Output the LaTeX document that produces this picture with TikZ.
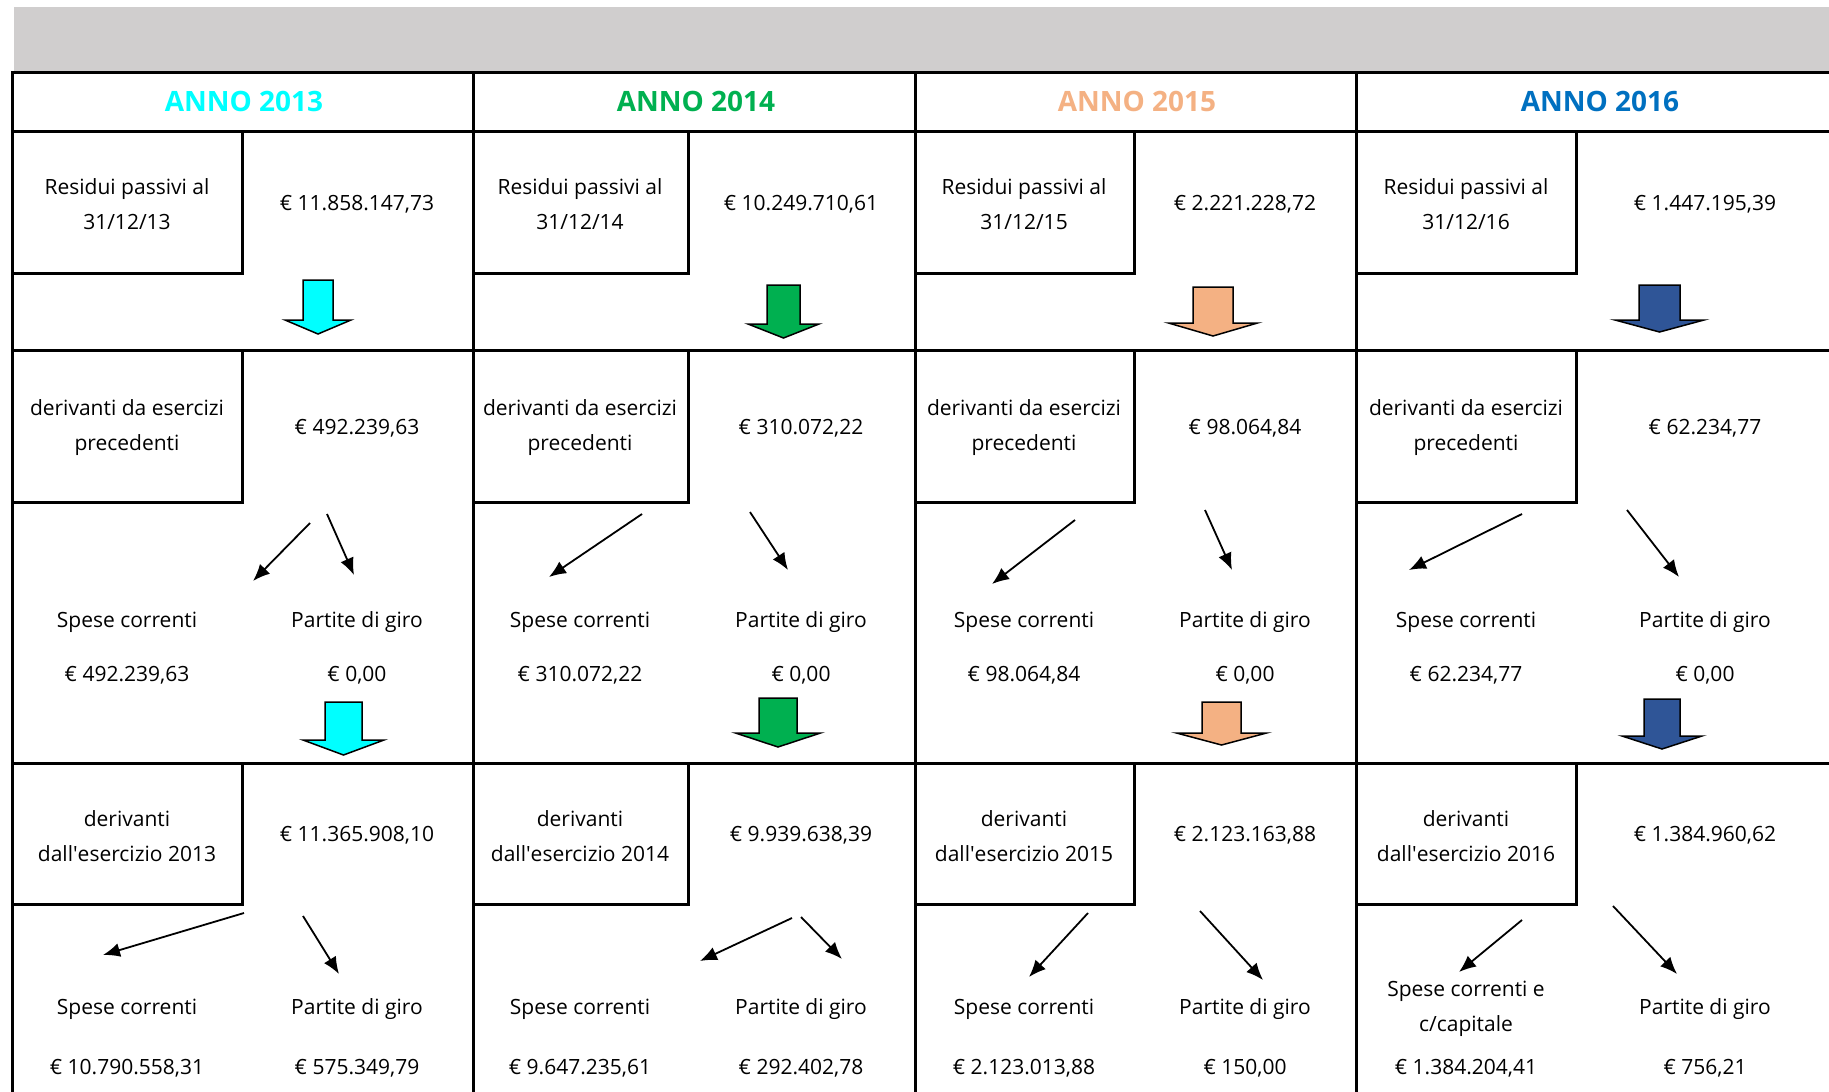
\documentclass[tikz,border=0pt]{standalone}
\usepackage{fontspec}
\setmainfont{Open Sans}
\usetikzlibrary{arrows.meta}

\definecolor{band}{RGB}{208,206,206}
\definecolor{c13}{RGB}{0,255,255}
\definecolor{c14}{RGB}{0,176,80}
\definecolor{c15}{RGB}{244,177,131}
\definecolor{c16}{RGB}{47,85,151}
\definecolor{t16}{RGB}{0,112,192}

\tikzset{
    txt/.style={font=\fontsize{21}{35}\selectfont, align=center, inner sep=0pt},
    anno/.style={font=\fontsize{28}{30}\selectfont\bfseries, inner sep=0pt},
    grid/.style={line width=3pt, line cap=rect},
    flow/.style={line width=1.8pt, -{Latex[length=17pt,width=14pt]}},
    fat/.style={draw=black, line width=1.5pt, line join=miter},
}

\begin{document}
\begin{tikzpicture}[x=1pt,y=-1pt]
\useasboundingbox (0,0) rectangle (1829,1092);

\fill[band] (14,7) rectangle (1829,71);

\foreach \y in {72,131,350,763}
{
    \draw[grid] (12,\y) -- (1829,\y);
};
\foreach \x in {12,473,915,1356}
{
    \draw[grid] (\x,72) -- (\x,1092);
};
\foreach \l/\b in {12/242,473/688,915/1134,1356/1576}
{
    \draw[grid] (\l,273) -| (\b,131);
    \draw[grid] (\l,502) -| (\b,350);
    \draw[grid] (\l,904) -| (\b,763);
};

% intestazioni
\foreach \n/\x/\c in {13/244/c13,14/696/c14,15/1137/c15,16/1600/t16}
{
    \node[anno, text=\c] (anno\n) at (\x,101) {ANNO 20\n};
};

% testi fissi
\foreach \n/\l/\r in {13/127/357,14/580/801,15/1024/1245,16/1466/1705}
{
    \node[txt] (res\n) at (\l,204) {Residui passivi al\\31/12/\n};
    \node[txt] (prec\n) at (\l,428) {derivanti da esercizi\\precedenti};
    \node[txt] (spc\n) at (\l,622) {Spese correnti};
    \node[txt] (pdg\n) at (\r,622) {Partite di giro};
    \node[txt] (pdgv\n) at (\r,675) {€ 0,00};
    \node[txt] (eser\n) at (\l,836) {derivanti\\dall\textquotesingle esercizio 20\n};
    \node[txt] (pdgb\n) at (\r,1009) {Partite di giro};
};
\foreach \n/\l in {13/127,14/580,15/1024}
{
    \node[txt] (spcb\n) at (\l,1009) {Spese correnti};
};
\node[txt] (spcb16) at (1466,1009) {Spese correnti e\\c/capitale};

% importi
\foreach \n/\l/\r/\tot/\prv/\esr/\spb/\pgb in
{13/127/357/{11.858.147,73}/{492.239,63}/{11.365.908,10}/{10.790.558,31}/{575.349,79},
    14/580/801/{10.249.710,61}/{310.072,22}/{9.939.638,39}/{9.647.235,61}/{292.402,78},
    15/1024/1245/{2.221.228,72}/{98.064,84}/{2.123.163,88}/{2.123.013,88}/{150,00},
    16/1466/1705/{1.447.195,39}/{62.234,77}/{1.384.960,62}/{1.384.204,41}/{756,21}}
{
    \node[txt] (tot\n) at (\r,204) {€ \tot};
    \node[txt] (precv\n) at (\r,428) {€ \prv};
    \node[txt] (spcv\n) at (\l,675) {€ \prv};
    \node[txt] (eserv\n) at (\r,835) {€ \esr};
    \node[txt] (spcbv\n) at (\l,1068) {€ \spb};
    \node[txt] (pdgbv\n) at (\r,1068) {€ \pgb};
};

% frecce grandi
\foreach \c/\x/\w/\t/\h/\hw/\p in
{c13/318/15/280/320/33/334,
    c14/783.5/16.5/285/324/35.5/338,
    c15/1213/20/287/323/44.5/336,
    c16/1659.5/20.5/285/320/44.5/332,
    c13/343.5/18.5/702/740/40.5/755,
    c14/778/19/698/733/42.5/747,
    c15/1221.5/19.5/702/733/45/745,
    c16/1662/18/699/736/40/749}
{
    \draw[fat, fill=\c] ({\x-\w},\t) -- ({\x+\w},\t) -- ({\x+\w},\h) -- ({\x+\hw},\h)
        -- (\x,\p) -- ({\x-\hw},\h) -- ({\x-\w},\h) -- cycle;
};

% frecce sottili
\foreach \a/\sx/\sy/\ex/\ey in
{m13l/310/523/253/581, m13r/327/514/354/575,
    m14l/642/514/549/577, m14r/750/512/788/570,
    m15l/1075/520/992/584, m15r/1205/510/1232/570,
    m16l/1522/514/1409/570, m16r/1627/510/1679/577,
    b13l/244/913/103/955, b13r/303/916/339/974,
    b14l/792/918/700/961, b14r/801/917/842/959,
    b15l/1088/913/1029/977, b15r/1200/911/1263/980,
    b16l/1522/920/1459/972, b16r/1613/906/1677/974}
{
    \coordinate (\a s) at (\sx,\sy);
    \coordinate (\a e) at (\ex,\ey);
    \draw[flow] (\a s) -- (\a e);
};

\end{tikzpicture}
\end{document}
